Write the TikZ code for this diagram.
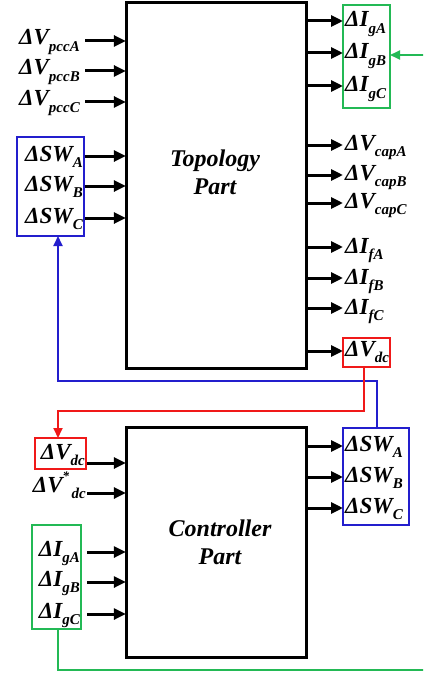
\documentclass[tikz,border=0pt]{standalone}
\usepackage{fontspec}
\setmainfont{Liberation Serif}
\usetikzlibrary{arrows.meta}
\definecolor{myblue}{RGB}{35,30,205}
\definecolor{myred}{RGB}{240,25,25}
\definecolor{mygreen}{RGB}{35,185,85}
\newcommand\sbs[1]{\raisebox{-0.28em}{\fontsize{15}{15}\selectfont #1}}
\newcommand\sps[1]{\raisebox{0.5em}{\fontsize{13}{13}\selectfont #1}}
\tikzset{
  lbl/.style={font=\fontsize{23}{23}\selectfont\bfseries\itshape, inner sep=0pt},
  ttl/.style={font=\fontsize{24}{28}\selectfont\bfseries\itshape, align=center, inner sep=0pt},
  blk/.style={draw=black, line width=3pt},
  arr/.style={line width=3pt, -{Triangle[length=12pt,width=11pt]}},
  carr/.style={line width=1.8pt, -{Triangle[length=10pt,width=9pt]}},
  grp/.style={line width=1.8pt},
}
\begin{document}
\begin{tikzpicture}[x=1pt,y=-1pt]
\useasboundingbox (0,0) rectangle (423,674);
\clip (0,0) rectangle (423,674);
\fill[white] (0,0) rectangle (423,674);

% main blocks
\draw[blk] (126,3) rectangle (306,368);
\node[inner sep=0pt, minimum width=180pt, minimum height=365pt] (top) at (216,185.5) {};
\draw[blk] (126,427) rectangle (306,657);
\node[inner sep=0pt, minimum width=180pt, minimum height=230pt] (ctl) at (216,542) {};
\node[ttl] (ttop) at (215,172) {Topology\\Part};
\node[ttl] (tctl) at (220,542) {Controller\\Part};

% colored group boxes
\draw[grp, myblue] (17,137) rectangle (84,236);
\coordinate (swin) at (58,236);
\draw[grp, mygreen] (343,5) rectangle (390,108);
\coordinate (igout) at (390,55);
\draw[grp, myred] (343,338) rectangle (390,367);
\coordinate (vdcout) at (364,367);
\draw[grp, myred] (35,438) rectangle (86,469);
\coordinate (vdcin) at (58,438);
\draw[grp, mygreen] (32,525) rectangle (81,629);
\coordinate (igin) at (58,629);
\draw[grp, myblue] (343,428) rectangle (409,525);
\coordinate (swout) at (377,428);

% topology left inputs
\foreach \n/\y/\t in {pa/41/pccA, pb/71/pccB, pc/102/pccC}{
  \coordinate (\n) at (85,\y);
  \node[lbl, anchor=base east] (L\n) at (80,\y+4) {ΔV\sbs{\t}};
  \draw[arr] (\n) -- (top.west |- \n);
}
\foreach \n/\y/\t in {sa/156/A, sb/186/B, sc/218/C}{
  \coordinate (\n) at (85,\y);
  \node[lbl, anchor=base east] (L\n) at (83,\y+5) {ΔSW\sbs{\t}};
  \draw[arr] (\n) -- (top.west |- \n);
}
% topology right outputs
\foreach \n/\y/\t in {ga/21/gA, gb/53/gB, gc/86/gC, fa/247/fA, fb/278/fB, fc/308/fC}{
  \coordinate (\n) at (343,\y);
  \node[lbl, anchor=base west] (L\n) at (345,\y+6) {ΔI\sbs{\t}};
  \draw[arr] (top.east |- \n) -- (\n);
}
\foreach \n/\y/\t in {ca/145/capA, cb/175/capB, cc/203/capC, vd/351/dc}{
  \coordinate (\n) at (343,\y);
  \node[lbl, anchor=base west] (L\n) at (345,\y+5) {ΔV\sbs{\t}};
  \draw[arr] (top.east |- \n) -- (\n);
}

% controller inputs
\coordinate (cv1) at (87,463);
\node[lbl, anchor=base east] (Lcv1) at (85,459) {ΔV\sbs{dc}};
\draw[arr] (cv1) -- (ctl.west |- cv1);
\coordinate (cv2) at (87,493);
\node[lbl, anchor=base east] (Lcv2) at (86,492) {ΔV\sps{*}\sbs{\,dc}};
\draw[arr] (cv2) -- (ctl.west |- cv2);
\foreach \n/\y/\t in {ia/552/gA, ib/582/gB, ic/614/gC}{
  \coordinate (\n) at (87,\y);
  \node[lbl, anchor=base east] (L\n) at (80,\y+4) {ΔI\sbs{\t}};
  \draw[arr] (\n) -- (ctl.west |- \n);
}
% controller outputs
\foreach \n/\y/\t in {oa/446/A, ob/477/B, oc/508/C}{
  \coordinate (\n) at (343,\y);
  \node[lbl, anchor=base west] (L\n) at (345,\y+5) {ΔSW\sbs{\t}};
  \draw[arr] (ctl.east |- \n) -- (\n);
}

% feedback connectors
\coordinate (gin) at (430,55);
\draw[carr, mygreen] (gin) -- (igout);
\draw[grp, mygreen] (igin) -- (58,670) -- (430,670) -- (gin);
\draw[carr, myblue] (swout) -- (377,381) -- (58,381) -- (swin);
\draw[carr, myred] (vdcout) -- (364,411) -- (58,411) -- (vdcin);
\end{tikzpicture}
\end{document}
